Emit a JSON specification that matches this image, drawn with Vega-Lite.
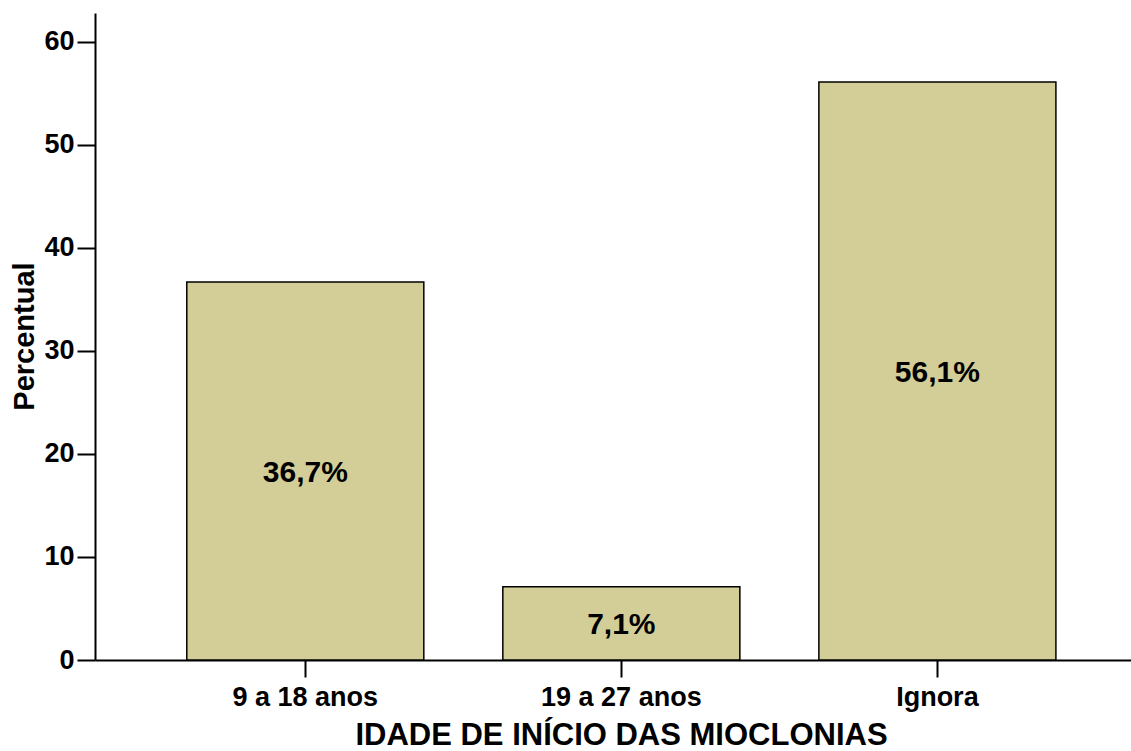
{
  "$schema": "https://vega.github.io/schema/vega-lite/v6.json",
  "autosize": "none",
  "width": 1036,
  "height": 647,
  "padding": {"left": 95, "top": 13, "right": 0, "bottom": 91},
  "background": "white",
  "config": {
    "view": {"stroke": null},
    "font": "Liberation Sans"
  },
  "data": {
    "values": [
      {"idade": "9 a 18 anos", "pct": 36.7},
      {"idade": "19 a 27 anos", "pct": 7.1},
      {"idade": "Ignora", "pct": 56.1}
    ]
  },
  "transform": [
    {"calculate": "replace(format(datum.pct, '.1f'), '.', ',') + '%'", "as": "rotulo"},
    {"calculate": "datum.pct / 2", "as": "meio"}
  ],
  "encoding": {
    "x": {
      "field": "idade",
      "type": "nominal",
      "sort": null,
      "scale": {"paddingInner": 0.25, "paddingOuter": 0.264, "align": 0.55},
      "axis": {
        "title": "IDADE DE INÍCIO DAS MIOCLONIAS",
        "labelAngle": 0,
        "labelFont": "Liberation Sans",
        "labelFontSize": 27,
        "labelFontWeight": "bold",
        "labelColor": "black",
        "labelPadding": 7,
        "tickSize": 17,
        "tickWidth": 2,
        "tickColor": "black",
        "domainColor": "black",
        "domainWidth": 2,
        "titleFont": "Liberation Sans",
        "titleFontSize": 31,
        "titleFontWeight": "bold",
        "titleColor": "black",
        "titleX": 526,
        "titleY": 84,
        "titleBaseline": "alphabetic",
        "titleAlign": "center"
      }
    }
  },
  "layer": [
    {
      "mark": {"type": "bar", "color": "#D3CE97", "stroke": "black", "strokeWidth": 1.5},
      "encoding": {
        "y": {
          "field": "pct",
          "type": "quantitative",
          "scale": {"domain": [0, 62.8], "nice": false},
          "axis": {
            "title": "Percentual",
            "values": [0, 10, 20, 30, 40, 50, 60],
            "grid": false,
            "labelFont": "Liberation Sans",
            "labelFontSize": 27,
            "labelFontWeight": "bold",
            "labelColor": "black",
            "labelPadding": 3,
            "tickSize": 18,
            "tickWidth": 2,
            "tickColor": "black",
            "domainColor": "black",
            "domainWidth": 2,
            "titleFont": "Liberation Sans",
            "titleFontSize": 29,
            "titleFontWeight": "bold",
            "titleColor": "black",
            "titleAngle": -90,
            "titleX": -62,
            "titleY": 323,
            "titleBaseline": "alphabetic",
            "titleAlign": "center"
          }
        }
      }
    },
    {
      "mark": {"type": "text", "fontSize": 30, "fontWeight": "bold", "color": "black", "baseline": "middle", "dy": 2},
      "encoding": {
        "y": {"field": "meio", "type": "quantitative"},
        "text": {"field": "rotulo"}
      }
    }
  ]
}
